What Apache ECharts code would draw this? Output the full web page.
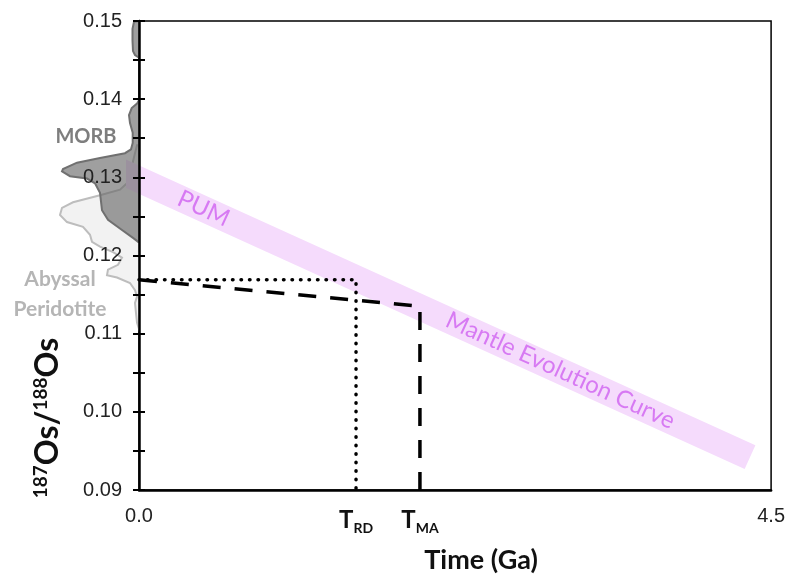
<!DOCTYPE html>
<html><head><meta charset="utf-8">
<script src="https://cdn.jsdelivr.net/npm/echarts@6/dist/echarts.min.js"></script>
<style>html,body{margin:0;padding:0;background:#fff}#c{width:788px;height:579px}</style>
</head><body><div id="c"></div>
<script>
// ---- data ----
const xTickValues = [0, 1.545, 2.0, 4.5];
const xTickLabels = ['0.0', 'T|RD', 'T|MA', '4.5'];
const trd = 1.545;            // Re-depletion age
const tma = 2.0;              // Model age
const osInitial = 0.1169;     // measured 187Os/188Os
const osAtTma = 0.1135;       // mantle value at T_MA
const pumX = [0, 4.35];       // mantle evolution curve (Ga)
const pumY = [0.1297, 0.0942];// mantle evolution curve 187Os/188Os
const pumLabelPos = [0.46, 0.1260];
const mecLabelPos = [3.0, 0.1053];

const morbValues  = [0.1400,0.1396,0.1390,0.1381,0.1371,0.1359,0.1346,0.1338,0.1333,0.1327,0.1321,0.1313,0.1310,0.1304,0.1301,0.1295,0.1283,0.1261,0.1249,0.1236,0.1226,0.1221];
const morbDensity = [0,   1.7,   7.3,   10,    9,     6.3,   6.3,   8,     14,    39,    62,    76,    77,    69,    52,    44,    39,    37,    31,    17,    6,     0.7];
const morbTopValues  = [0.1500,0.1499,0.1490,0.1475,0.1462,0.1457,0.14545];
const morbTopDensity = [0,     5,     6.5,   6.5,   6,     4,     1];
const abyssalValues  = [0.1343,0.1328,0.1312,0.1295,0.1287,0.1280,0.1271,0.1264,0.1255,0.1246,0.1240,0.1230,0.1221,0.1215,0.1208,0.1201,0.1192,0.1186,0.1179,0.1176,0.1169,0.1160,0.1152,0.1144,0.1131,0.1119,0.1111];
const abyssalDensity = [2,     5,     8,     12,    19,    39,    66,    77,    79,    72,    56,    49,    47,    39,    26,    17,    21,    31,    32,    22,    9,     4,     2,     4,     3,     2,     0];
const morbLabelPos = [53, 0.1354];
const abyssalLabelPos = [79, 0.1155];

// ---- helpers ----
const slope = (pumY[1] - pumY[0]) / (pumX[1] - pumX[0]);
const bandData = [[pumX[0] - 0.2, pumY[0] - slope * 0.2], [pumX[1], pumY[1]]];

function polySeries(values, dens, fill, stroke, z) {
  return {
    type: 'custom', xAxisIndex: 1, yAxisIndex: 2, z: z, silent: true,
    data: [0],
    renderItem: function (params, api) {
      const pts = [api.coord([0, values[0]])];
      for (let i = 0; i < values.length; i++) pts.push(api.coord([dens[i], values[i]]));
      pts.push(api.coord([0, values[values.length - 1]]));
      return { type: 'polygon', shape: { points: pts }, style: { fill: fill, stroke: stroke, lineWidth: 2 } };
    }
  };
}

const chart = echarts.init(document.getElementById('c'), null, { renderer: 'canvas' });
const yMin = 0.09, yMax = 0.15, yInt = 0.005;

chart.setOption({
  animation: false,
  backgroundColor: '#fff',
  grid: [
    { left: 139, right: 14, top: 21, bottom: 83, show: true, borderColor: '#000', borderWidth: 1.5, backgroundColor: 'transparent' },
    { left: 39, width: 100, top: 21, bottom: 83 }
  ],
  xAxis: [
    {
      gridIndex: 0, type: 'value', min: 0, max: 4.5,
      axisLine: { show: true, lineStyle: { color: '#000', width: 2.5 } },
      axisTick: { show: false }, splitLine: { show: false },
      axisLabel: {
        customValues: xTickValues, margin: 16, fontSize: 20, color: '#222', fontFamily: 'Liberation Sans',
        formatter: function (v) {
          let idx = 0, best = 1e9;
          xTickValues.forEach((t, i) => { if (Math.abs(t - v) < best) { best = Math.abs(t - v); idx = i; } });
          const s = xTickLabels[idx];
          if (s.indexOf('|') >= 0) { const p = s.split('|'); return '{t|' + p[0] + '}{s|' + p[1] + '}'; }
          return s;
        },
        rich: {
          t: { fontSize: 24, fontWeight: 'bold', fontFamily: 'Lato', color: '#111', lineHeight: 26, verticalAlign: 'bottom' },
          s: { fontSize: 14, fontWeight: 'bold', fontFamily: 'Lato', color: '#111', lineHeight: 13, verticalAlign: 'bottom', padding: [0, 0, -3, 0] }
        }
      },
      name: 'Time (Ga)', nameLocation: 'middle', nameGap: 57,
      nameTextStyle: { fontFamily: 'Lato', fontWeight: 'bold', fontSize: 27, color: '#111', padding: [0, 0, 0, 52] }
    },
    { gridIndex: 1, type: 'value', min: 0, max: 100, inverse: true, show: false }
  ],
  yAxis: [
    {
      gridIndex: 0, type: 'value', min: yMin, max: yMax, interval: yInt, position: 'left', z: 5,
      axisLine: { show: true, lineStyle: { color: '#000', width: 2.5 } },
      axisTick: { show: true, inside: false, length: 6, lineStyle: { color: '#000', width: 2 } },
      splitLine: { show: false },
      axisLabel: {
        margin: 17, fontSize: 20, color: '#222', fontFamily: 'Liberation Sans',
        formatter: function (v) { return Math.round(v * 1000) % 10 === 0 ? v.toFixed(2) : ''; }
      }
    },
    {
      gridIndex: 0, type: 'value', min: yMin, max: yMax, interval: yInt, position: 'left', z: 5,
      axisLine: { show: false },
      axisTick: { show: true, inside: true, length: 6, lineStyle: { color: '#000', width: 2 } },
      axisLabel: { show: false }, splitLine: { show: false }
    },
    { gridIndex: 1, type: 'value', min: yMin, max: yMax, show: false }
  ],
  graphic: [
    {
      type: 'text', x: 46, y: 418, rotation: Math.PI / 2, z: 10,
      style: {
        text: '{s|187}{b|Os/}{s|188}{b|Os}', align: 'center', verticalAlign: 'middle',
        rich: {
          b: { fontFamily: 'Lato', fontWeight: 'bold', fontSize: 32, fill: '#111', lineHeight: 36, verticalAlign: 'bottom' },
          s: { fontFamily: 'Lato', fontWeight: 'bold', fontSize: 19, fill: '#111', lineHeight: 19, verticalAlign: 'top', padding: [3, 0, 0, 0] }
        }
      }
    }
  ],
  series: [
    polySeries(abyssalValues, abyssalDensity, '#f2f2f2', '#bdbdbd', 1),
    polySeries(morbValues, morbDensity, 'rgba(100,100,100,0.62)', '#707070', 2),
    polySeries(morbTopValues, morbTopDensity, 'rgba(100,100,100,0.62)', '#707070', 2),
    {
      type: 'scatter', xAxisIndex: 1, yAxisIndex: 2, symbolSize: 0, silent: true, z: 3,
      data: [{ value: morbLabelPos, name: 'MORB' }],
      label: { show: true, position: 'inside', formatter: 'MORB', fontFamily: 'Lato', fontWeight: 'bold', fontSize: 20, color: '#5e5e5e' }
    },
    {
      type: 'scatter', xAxisIndex: 1, yAxisIndex: 2, symbolSize: 0, silent: true, z: 3,
      data: [{ value: abyssalLabelPos, name: 'Abyssal Peridotite' }],
      label: { show: true, position: 'inside', formatter: 'Abyssal\nPeridotite', align: 'center', lineHeight: 30, fontFamily: 'Lato', fontWeight: 'bold', fontSize: 21, color: '#a3a3a3' }
    },
    {
      type: 'line', xAxisIndex: 0, yAxisIndex: 0, data: bandData, showSymbol: false, silent: true, z: 1,
      lineStyle: { color: '#f5dbfc', width: 26, cap: 'butt' }
    },
    {
      type: 'scatter', xAxisIndex: 0, yAxisIndex: 0, symbolSize: 0, silent: true, z: 3,
      data: [pumLabelPos],
      label: { show: true, position: 'inside', formatter: 'PUM', rotate: -24.6, fontFamily: 'Lato', fontSize: 24, color: '#cf62f0' }
    },
    {
      type: 'scatter', xAxisIndex: 0, yAxisIndex: 0, symbolSize: 0, silent: true, z: 3,
      data: [mecLabelPos],
      label: { show: true, position: 'inside', formatter: 'Mantle Evolution Curve', rotate: -24.6, fontFamily: 'Lato', fontSize: 24, color: '#cf62f0' }
    },
    {
      type: 'line', xAxisIndex: 0, yAxisIndex: 0, showSymbol: false, silent: true, z: 4,
      data: [[0, osInitial], [trd, osInitial], [trd, yMin]],
      lineStyle: { color: '#000', width: 3.5, type: [0.5, 8], cap: 'round' }
    },
    {
      type: 'line', xAxisIndex: 0, yAxisIndex: 0, showSymbol: false, silent: true, z: 4,
      data: [[0, osInitial], [tma, osAtTma], [tma, yMin]],
      lineStyle: { color: '#000', width: 3.5, type: [18, 14], cap: 'butt' }
    }
  ]
});
</script>
</body></html>
